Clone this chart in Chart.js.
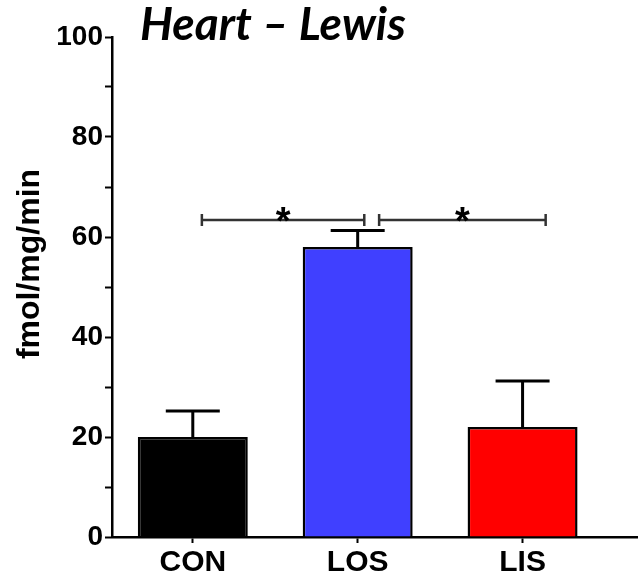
<!DOCTYPE html>
<html>
<head>
<meta charset="utf-8">
<script src="https://cdn.jsdelivr.net/npm/chart.js@4.4.1/dist/chart.umd.min.js"></script>
<style>
  html, body { margin: 0; padding: 0; background: #fff; }
  #wrap { width: 638px; height: 579px; }
</style>
</head>
<body>
<div id="wrap"><canvas id="chart"></canvas></div>
<script>
// values
const categories = ['CON', 'LOS', 'LIS'];
const means = [20, 58, 22];
const sem = [5.2, 3.3, 9.2];
const barColors = ['#000000', '#4040ff', '#ff0000'];
const yTicks = [0, 20, 40, 60, 80, 100];
// significance brackets: from/to in category units, height in fmol/mg/min
const brackets = [
  { from: 0.055, to: 1.04, y: 63.4, label: '*' },
  { from: 1.13, to: 2.14, y: 63.4, label: '*' }
];

// error bars (upper only, like the original)
const errorBars = {
  id: 'errorBars',
  afterDatasetsDraw(chart) {
    const ctx = chart.ctx;
    const yScale = chart.scales.y;
    const meta = chart.getDatasetMeta(0);
    ctx.save();
    ctx.strokeStyle = '#000';
    ctx.lineWidth = 3;
    meta.data.forEach((bar, i) => {
      const top = yScale.getPixelForValue(means[i] + sem[i]);
      const base = yScale.getPixelForValue(means[i]);
      ctx.beginPath();
      ctx.moveTo(bar.x, base);
      ctx.lineTo(bar.x, top);
      ctx.moveTo(bar.x - 27, top);
      ctx.lineTo(bar.x + 27, top);
      ctx.stroke();
    });
    ctx.restore();
  }
};

const sigBrackets = {
  id: 'sigBrackets',
  afterDatasetsDraw(chart) {
    const ctx = chart.ctx;
    const { x, y } = chart.scales;
    ctx.save();
    ctx.strokeStyle = '#333';
    ctx.lineWidth = 2.5;
    ctx.fillStyle = '#000';
    ctx.font = 'bold 38px "Liberation Sans", Arial, sans-serif';
    ctx.textAlign = 'center';
    ctx.textBaseline = 'alphabetic';
    brackets.forEach(b => {
      const x1 = x.getPixelForValue(b.from);
      const x2 = x.getPixelForValue(b.to);
      const yy = y.getPixelForValue(b.y);
      ctx.beginPath();
      ctx.moveTo(x1, yy); ctx.lineTo(x2, yy);
      ctx.moveTo(x1, yy - 6); ctx.lineTo(x1, yy + 6);
      ctx.moveTo(x2, yy - 6); ctx.lineTo(x2, yy + 6);
      ctx.stroke();
      ctx.fillText(b.label, (x1 + x2) / 2, yy + 14);
    });
    ctx.restore();
  }
};

// chart title and y-axis title, placed like the original figure
const titles = {
  id: 'titles',
  afterDraw(chart) {
    const ctx = chart.ctx;
    ctx.save();
    ctx.fillStyle = '#000';
    ctx.font = 'italic bold 46px Lato, "Open Sans", sans-serif';
    ctx.textBaseline = 'alphabetic';
    ctx.fillText('Heart \u2013 Lewis', chart.chartArea.left + 28, 40);

    ctx.translate(30, 264);
    ctx.rotate(-Math.PI / 2);
    ctx.font = 'bold 32px "Liberation Sans", Arial, sans-serif';
    ctx.textAlign = 'center';
    ctx.textBaseline = 'middle';
    ctx.fillText('fmol/mg/min', 0, 0);
    ctx.restore();
  }
};

new Chart(document.getElementById('chart'), {
  type: 'bar',
  data: {
    datasets: [{
      data: categories.map((c, i) => ({ x: i, y: means[i] })),
      backgroundColor: barColors,
      borderColor: '#000',
      borderWidth: 2.5,
      categoryPercentage: 1,
      barPercentage: 0.667
    }]
  },
  options: {
    responsive: true,
    maintainAspectRatio: false,
    animation: false,
    layout: { padding: { top: 37, right: 0, left: 0, bottom: 0 } },
    plugins: { legend: { display: false }, tooltip: { enabled: false } },
    scales: {
      x: {
        type: 'linear',
        offset: false,
        min: -0.49,
        max: 2.7,
        afterBuildTicks: s => { s.ticks = categories.map((c, i) => ({ value: i })); },
        afterFit: s => { s.height = 42; },
        ticks: {
          color: '#000',
          padding: 2,
          maxRotation: 0,
          font: { family: '"Liberation Sans", Arial', size: 30, weight: 'bold' },
          callback: v => categories[v]
        },
        grid: { display: true, offset: false, drawOnChartArea: false, tickLength: 6, color: '#000', tickWidth: 2 },
        border: { display: true, color: '#000', width: 2.5 }
      },
      y: {
        min: 0,
        max: 100,
        afterBuildTicks: s => {
          s.ticks = [];
          for (let v = 0; v <= 100; v += 10) s.ticks.push({ value: v });
        },
        afterFit: s => { s.width = 112; },
        ticks: {
          color: '#000',
          padding: 2,
          font: { family: '"Liberation Sans", Arial', size: 28, weight: 'bold' },
          callback: v => yTicks.includes(v) ? String(v) : ''
        },
        grid: { display: true, drawOnChartArea: false, tickLength: 7, color: '#000', tickWidth: 2 },
        border: { display: true, color: '#000', width: 2.5 }
      }
    }
  },
  plugins: [errorBars, sigBrackets, titles]
});
</script>
</body>
</html>
